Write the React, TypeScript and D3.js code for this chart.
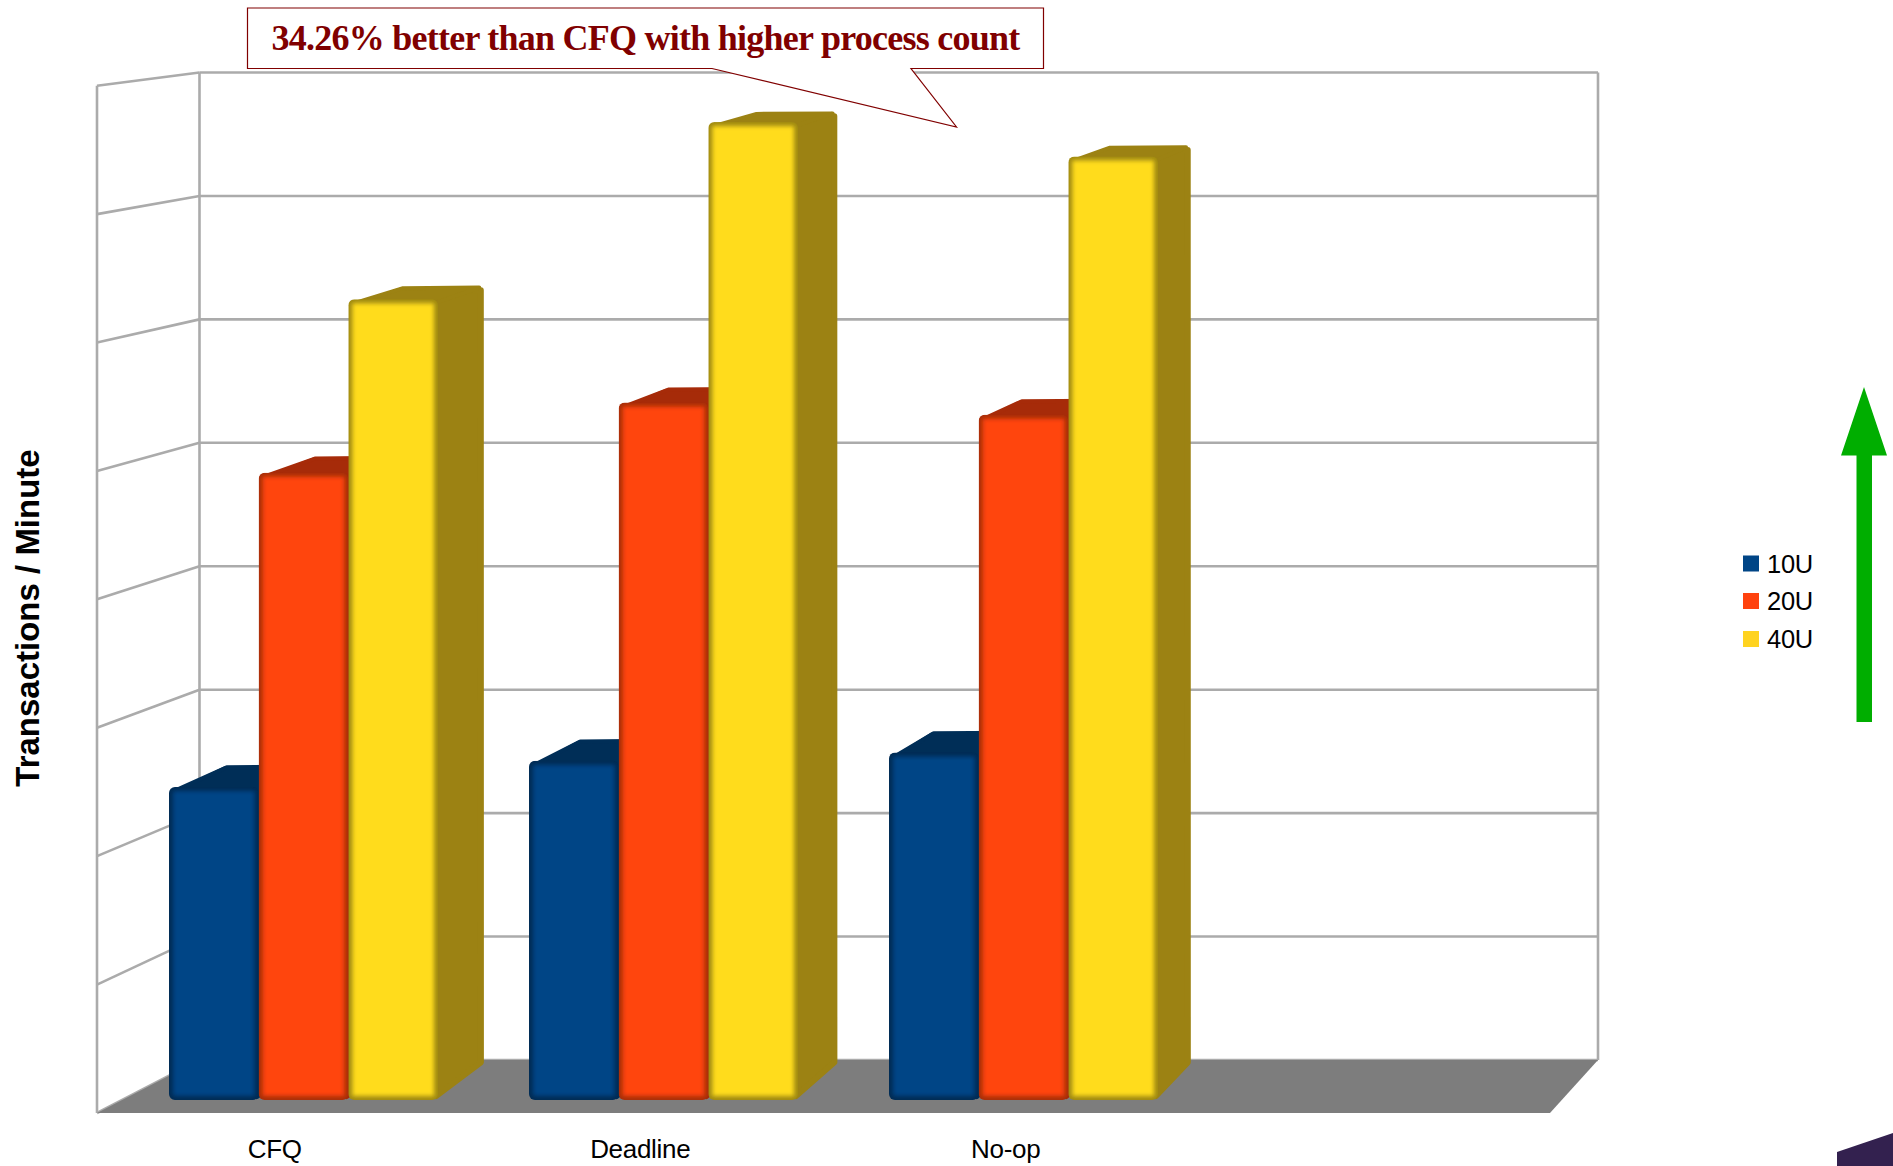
import React from "react";
import * as d3 from "d3";

// Chart content
const categories = ["CFQ", "Deadline", "No-op"];
const emptySlot = "";
const seriesNames = ["10U", "20U", "40U"];
const values10U = [2.455, 2.66, 2.725];
const values20U = [4.92, 5.47, 5.375];
const values40U = [6.28, 7.67, 7.4];
const seriesValues = [values10U, values20U, values40U];
const yTitle = "Transactions / Minute";
const calloutText = "34.26% better than CFQ with higher process count";

// Series palette: face, shaded edge of the face, top and side of the block
const faceColors = ["#004586", "#ff450f", "#ffdc1f"];
const edgeColors = ["#002b54", "#a82e09", "#a08a12"];
const topColors = ["#002e57", "#a62b09", "#9c8213"];
const sideColors = ["#002e57", "#a62b09", "#9c8213"];
const legendColors = ["#004586", "#ff420e", "#ffd320"];

const W = 1893;
const H = 1166;
const GRID = "#ababab";

// Box geometry: the room and the perspective that recedes from the front plane
const vanish: [number, number] = [2800, -358];
const blockDepth = 0.0183;
const baseLift = 8;
const topLeftBevel = 8;
const recede = (x: number, y: number, t = blockDepth): [number, number] => [
  x + t * (vanish[0] - x),
  y + t * (vanish[1] - y),
];

const yWall = d3.scaleLinear().domain([0, 8]).range([1060, 72.5]);
const yLeft = d3.scaleLinear().domain([0, 8]).range([1113, 85.7]);
const yFace = d3.scaleLinear().domain([0, 8]).range([1100, 80]);

const slots = [...categories, emptySlot];
const xGroup = d3
  .scaleBand<string>()
  .domain(slots)
  .range([123.5, 1563.5])
  .paddingInner(0.2528)
  .paddingOuter(0.1264);
const xSeries = d3.scaleBand<string>().domain(seriesNames).range([0, xGroup.bandwidth()]);
const xLabel = d3.scaleBand<string>().domain(slots).range([92, 1554]);

const wallLeft = 97;
const wallBack = 199.5;
const wallRight = 1598;
const floorRight = 1550;

const polyPath = d3.line().curve(d3.curveLinearClosed);

// Pulls a polygon's vertices in so that a round-joined stroke restores its outline
function inset(points: [number, number][], by: number): [number, number][] {
  const [cx, cy] = d3.polygonCentroid(points);
  return points.map(([x, y]) => {
    const len = Math.hypot(cx - x, cy - y) || 1;
    return [x + ((cx - x) / len) * by, y + ((cy - y) / len) * by];
  });
}

function Block({ cat, s, v }: { cat: string; s: number; v: number }) {
  const x0 = (xGroup(cat) as number) + (xSeries(seriesNames[s]) as number);
  const x1 = x0 + xSeries.bandwidth();
  const yTop = yFace(v);
  const yBase = yFace(0);
  const backTL = recede(x0, yTop);
  backTL[0] += topLeftBevel;
  const backTR = recede(x1, yTop);
  const backBR = recede(x1, yBase);
  backBR[1] -= baseLift;
  const shell: [number, number][] = [[x0 + 4, yTop + 4], backTL, backTR, backBR, [x1 - 2, yBase - 1]];
  const top: [number, number][] = [[x0 + 4, yTop + 4], backTL, backTR, [x1, yTop + 4]];
  const id = `face-${categories.indexOf(cat)}-${s}`;
  return (
    <g>
      <path
        d={polyPath(inset(shell, 3)) as string}
        fill={sideColors[s]}
        stroke={sideColors[s]}
        strokeWidth={6}
        strokeLinejoin="round"
      />
      <path
        d={polyPath(inset(top, 2)) as string}
        fill={topColors[s]}
        stroke={topColors[s]}
        strokeWidth={4}
        strokeLinejoin="round"
      />
      <clipPath id={id}>
        <rect x={x0} y={yTop} width={x1 - x0} height={yBase - yTop} rx={6} />
      </clipPath>
      <g clipPath={`url(#${id})`}>
        <rect x={x0} y={yTop} width={x1 - x0} height={yBase - yTop} fill={edgeColors[s]} />
        <rect
          x={x0 + 4}
          y={yTop + 4}
          width={x1 - x0 - 8}
          height={yBase - yTop - 8}
          fill={faceColors[s]}
          filter="url(#bevel)"
        />
      </g>
    </g>
  );
}

export default function App() {
  const ticks = yWall.ticks(8);
  const floor: [number, number][] = [
    [wallLeft, yLeft(0)],
    [wallBack, yWall(0)],
    [wallRight, yWall(0)],
    [floorRight, yLeft(0)],
  ];
  const callout: [number, number][] = [
    [247.5, 8],
    [1043.5, 8],
    [1043.5, 68.5],
    [911, 68.5],
    [956.5, 127],
    [712, 68.5],
    [247.5, 68.5],
  ];
  const arrow: [number, number][] = [
    [1864, 387],
    [1887, 455.5],
    [1872, 455.5],
    [1872, 722],
    [1856.5, 722],
    [1856.5, 455.5],
    [1841, 455.5],
  ];
  const corner: [number, number][] = [
    [1837, 1152],
    [1893, 1133],
    [1893, 1166],
    [1837, 1166],
  ];
  const legendY = [563.5, 601, 639];

  return (
    <svg
      width={W}
      height={H}
      viewBox={`0 0 ${W} ${H}`}
      style={{ position: "absolute", left: 0, top: 0, display: "block", background: "#fff" }}
    >
      <defs>
        <filter id="bevel" x="-10%" y="-10%" width="120%" height="120%">
          <feGaussianBlur stdDeviation={2} />
        </filter>
      </defs>

      {/* Room: grid on the back and left walls */}
      <g stroke={GRID} strokeWidth={2.6} fill="none">
        {ticks.map((t) => (
          <g key={t}>
            <line x1={wallBack} x2={wallRight} y1={yWall(t)} y2={yWall(t)} />
            <line x1={wallLeft} x2={wallBack} y1={yLeft(t)} y2={yWall(t)} />
          </g>
        ))}
        <line x1={wallLeft} x2={wallLeft} y1={yLeft(8)} y2={yLeft(0)} />
        <line x1={wallBack} x2={wallBack} y1={yWall(8)} y2={yWall(0)} />
        <line x1={wallRight} x2={wallRight} y1={yWall(8)} y2={yWall(0)} />
      </g>
      <path d={polyPath(floor) as string} fill="#7d7d7d" />

      {/* Blocks */}
      {categories.map((cat, c) => (
        <g key={cat}>
          {seriesNames.map((name, s) => (
            <Block key={name} cat={cat} s={s} v={seriesValues[s][c]} />
          ))}
        </g>
      ))}

      {/* Category labels */}
      <g fontFamily="'Liberation Sans', sans-serif" fontSize={26} fill="#000" textAnchor="middle">
        {categories.map((cat) => (
          <text
            key={cat}
            x={(xLabel(cat) as number) + xLabel.bandwidth() / 2}
            y={1158}
            letterSpacing={-0.3}
          >
            {cat}
          </text>
        ))}
      </g>

      {/* Axis title */}
      <text
        transform="translate(39,618) rotate(-90)"
        fontFamily="'Liberation Sans', sans-serif"
        fontWeight={700}
        fontSize={33}
        textAnchor="middle"
        fill="#000"
      >
        {yTitle}
      </text>

      {/* Callout */}
      <path
        d={polyPath(callout) as string}
        fill="#fff"
        stroke="#800000"
        strokeWidth={1.2}
        strokeLinejoin="miter"
      />
      <text
        x={645.5}
        y={50}
        fontFamily="'Liberation Serif', serif"
        fontWeight={700}
        fontSize={36}
        letterSpacing={-0.75}
        textAnchor="middle"
        fill="#800000"
      >
        {calloutText}
      </text>

      {/* Legend */}
      <g fontFamily="'Liberation Sans', sans-serif" fontSize={25.5} fill="#000">
        {seriesNames.map((name, i) => (
          <g key={name}>
            <rect x={1743} y={legendY[i] - 8} width={16} height={16} fill={legendColors[i]} />
            <text x={1767} y={legendY[i] + 9} letterSpacing={-0.3}>
              {name}
            </text>
          </g>
        ))}
      </g>

      {/* Direction arrow and the corner shape */}
      <path d={polyPath(arrow) as string} fill="#00ae00" />
      <path d={polyPath(corner) as string} fill="#33214f" />
    </svg>
  );
}
